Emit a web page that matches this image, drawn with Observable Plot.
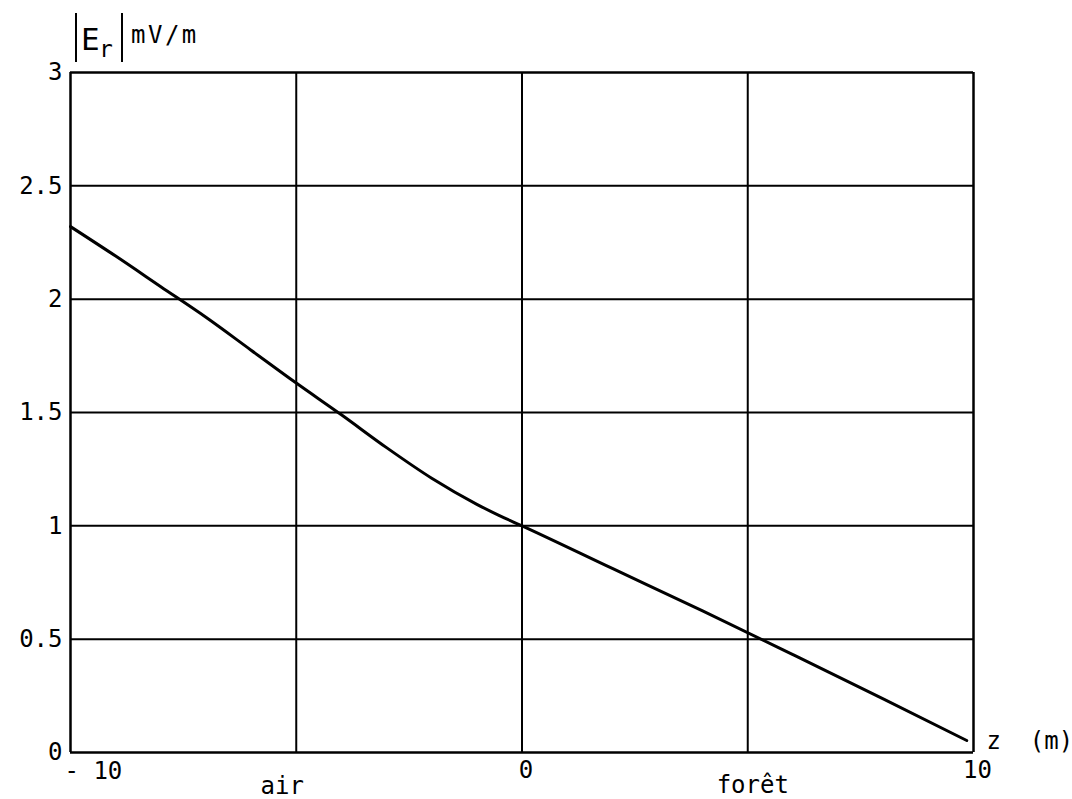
<!DOCTYPE html>
<html>
<head>
<meta charset="utf-8">
<script src="https://cdn.jsdelivr.net/npm/d3@7"></script>
<script src="https://cdn.jsdelivr.net/npm/@observablehq/plot@0.6"></script>
<style>
  html, body { margin: 0; padding: 0; background: #fff; }
  #chart svg { display: block; }
</style>
</head>
<body>
<div id="chart"></div>
<script>
// Radial field magnitude |Er| (mV/m) versus height z (m), air above, forest below
const zMeters = [-10, -9, -8, -7, -6, -5, -4, -3, -2, -1, -0.5, 0, 2, 4, 6, 8, 9.85];
const erField = [2.32, 2.19, 2.055, 1.92, 1.775, 1.63, 1.49, 1.345, 1.21, 1.095, 1.045, 1.0, 0.812, 0.625, 0.432, 0.237, 0.053];

const yTicks = [0, 0.5, 1, 1.5, 2, 2.5, 3];
const yTickLabels = ["0", "0.5", "1", "1.5", "2", "2.5", "3"];
const xGrid = [-10, -5, 0, 5, 10];
const xTicks = [0, 10];
const xTickLabels = ["0", "10"];
const regionNames = ["air", "forêt"];
const regionZ = [-5, 5];

const FONT = "'DejaVu Sans Mono', monospace";
const FS = 24, LS = 2.5;
const points = zMeters.map((z, i) => ({z, e: erField[i]}));
const regions = regionNames.map((name, i) => ({name, z: regionZ[i]}));

const chart = Plot.plot({
  width: 1072,
  height: 799,
  marginLeft: 70,
  marginRight: 99,
  marginTop: 72,
  marginBottom: 47,
  style: {fontFamily: FONT, fontSize: `${FS}px`, color: "#000", background: "#fff"},
  x: {domain: [-10, 10]},
  y: {domain: [0, 3]},
  marks: [
    // grid
    Plot.ruleX(xGrid.slice(1, -1), {stroke: "#000", strokeWidth: 2}),
    Plot.ruleY(yTicks.slice(1, -1), {stroke: "#000", strokeWidth: 2}),
    // frame
    Plot.ruleX([xGrid[0], xGrid[xGrid.length - 1]], {stroke: "#000", strokeWidth: 2.5}),
    Plot.ruleY([yTicks[0], yTicks[yTicks.length - 1]], {stroke: "#000", strokeWidth: 2.5}),
    // axes
    Plot.axisY(yTicks, {
      tickSize: 0, tickPadding: 8, label: null,
      tickFormat: (d) => yTickLabels[yTicks.indexOf(d)],
      fontSize: FS, letterSpacing: LS
    }),
    Plot.axisX(xTicks, {
      tickSize: 0, tickPadding: 8, label: null,
      tickFormat: (d) => xTickLabels[xTicks.indexOf(d)],
      fontSize: FS, letterSpacing: LS, dx: 4
    }),
    Plot.text(["- 10"], {
      x: () => -10, y: () => 0, text: (d) => d, textAnchor: "start",
      lineAnchor: "top", dx: -6, dy: 9, fontSize: FS, letterSpacing: LS
    }),
    Plot.text(regions.slice(0, 1), {
      x: "z", y: () => 0, text: "name", lineAnchor: "bottom",
      dx: -14, dy: 41, fontSize: FS, letterSpacing: LS
    }),
    Plot.text(regions.slice(1), {
      x: "z", y: () => 0, text: "name", lineAnchor: "bottom",
      dx: 5, dy: 40, fontSize: FS, letterSpacing: LS
    }),
    Plot.text(["z\u00a0 (m)"], {
      x: () => 10, y: () => 0, text: (d) => d, textAnchor: "start",
      dx: 13, dy: -11, fontSize: FS, letterSpacing: LS
    }),
    // the curve
    Plot.line(points, {x: "z", y: "e", stroke: "#000", strokeWidth: 3, curve: "monotone-x"})
  ]
});

document.getElementById("chart").appendChild(chart);

// y-axis title |Er| mV/m
const sx = chart.scale("x"), sy = chart.scale("y");
const frameLeft = sx.apply(-10), frameTop = sy.apply(3);
const g = d3.select(chart).append("g")
  .attr("font-family", FONT).attr("fill", "#000").attr("text-anchor", "start");
g.append("line").attr("x1", frameLeft + 6).attr("x2", frameLeft + 6)
  .attr("y1", frameTop - 59).attr("y2", frameTop - 10).attr("stroke", "#000").attr("stroke-width", 2);
g.append("text").attr("x", frameLeft + 11).attr("y", frameTop - 22)
  .attr("font-size", 31).text("E");
g.append("text").attr("x", frameLeft + 29).attr("y", frameTop - 15)
  .attr("font-size", 23).text("r");
g.append("line").attr("x1", frameLeft + 52).attr("x2", frameLeft + 52)
  .attr("y1", frameTop - 59).attr("y2", frameTop - 10).attr("stroke", "#000").attr("stroke-width", 2);
g.append("text").attr("x", frameLeft + 61).attr("y", frameTop - 29)
  .attr("font-size", FS).attr("letter-spacing", LS).text("mV/m");
</script>
</body>
</html>
